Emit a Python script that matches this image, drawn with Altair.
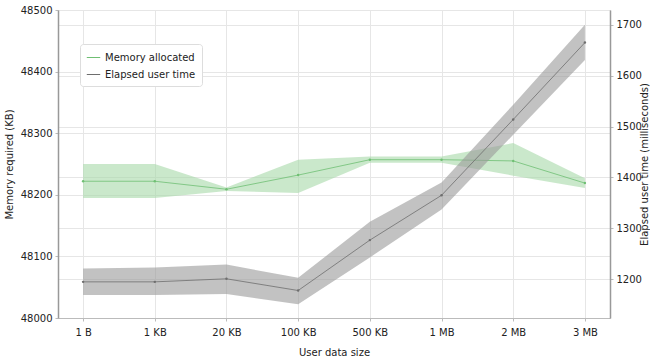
import altair as alt
import pandas as pd

sizes = ["1 B", "1 KB", "20 KB", "100 KB", "500 KB", "1 MB", "2 MB", "3 MB"]
mem_mean = [48222, 48222, 48209, 48232, 48257, 48257, 48255, 48219]
mem_lo = [48195, 48195, 48206, 48203, 48252, 48252, 48231, 48211]
mem_hi = [48250, 48250, 48212, 48257, 48262, 48262, 48284, 48227]
time_mean = [1195, 1195, 1201, 1178, 1277, 1365, 1514, 1665]
time_lo = [1169, 1169, 1171, 1151, 1243, 1337, 1484, 1631]
time_hi = [1221, 1223, 1229, 1203, 1313, 1390, 1543, 1700]

mem = pd.DataFrame({"size": sizes, "mean": mem_mean, "lo": mem_lo, "hi": mem_hi,
                    "series": "Memory allocated"})
tim = pd.DataFrame({"size": sizes, "mean": time_mean, "lo": time_lo, "hi": time_hi,
                    "series": "Elapsed user time"})

FONT = "DejaVu Sans"
xenc = alt.X("size:N", sort=sizes, title="User data size",
             scale=alt.Scale(type="point", padding=0.35),
             axis=alt.Axis(labelAngle=0, grid=True, gridColor="#e6e6e6", domainColor="#bbbbbb",
                           tickColor="#bbbbbb", tickSize=3, labelPadding=6, titlePadding=10))
color = alt.Color("series:N",
                  scale=alt.Scale(domain=["Memory allocated", "Elapsed user time"],
                                  range=["#6fbf73", "#6e6e6e"]),
                  legend=alt.Legend(title=None, orient="none", legendX=22, legendY=34,
                                    symbolType="stroke", symbolSize=180, symbolStrokeWidth=1,
                                    labelFontSize=10, labelFont=FONT, labelColor="#222",
                                    fillColor="white", strokeColor="#dddddd", padding=6,
                                    cornerRadius=3, rowPadding=4))

ymem = alt.Scale(domain=[48000, 48500], nice=False)
yaxis_l = alt.Axis(values=[48000, 48100, 48200, 48300, 48400, 48500], format="d", grid=True,
                   gridColor="#e6e6e6", domainColor="#999999", domainWidth=1.5,
                   tickColor="#bbbbbb", tickSize=3, labelPadding=3, titlePadding=6)
mem_band = alt.Chart(mem).mark_area(color="#a6d9a8", opacity=0.6).encode(
    x=xenc, y=alt.Y("lo:Q", scale=ymem, title="Memory required (KB)", axis=yaxis_l), y2="hi:Q")
mem_line = alt.Chart(mem).mark_line(strokeWidth=0.8, point=alt.OverlayMarkDef(size=6, filled=True)).encode(
    x=xenc, y=alt.Y("mean:Q", scale=ymem), color=color)
left = alt.layer(mem_band, mem_line)

ytim = alt.Scale(domain=[1124, 1729], nice=False)
yaxis_r = alt.Axis(orient="right", values=[1200, 1300, 1400, 1500, 1600, 1700], format="d", grid=True,
                   gridColor="#e6e6e6", domainColor="#999999", domainWidth=1.5,
                   tickColor="#bbbbbb", tickSize=3, labelPadding=3, titleAngle=270,
                   titleBaseline="middle", titleX=34)
tim_band = alt.Chart(tim).mark_area(color="#9a9a9a", opacity=0.6).encode(
    x=xenc, y=alt.Y("lo:Q", scale=ytim, title="Elapsed user time (milliseconds)", axis=yaxis_r),
    y2="hi:Q")
tim_line = alt.Chart(tim).mark_line(strokeWidth=0.8, point=alt.OverlayMarkDef(size=6, filled=True)).encode(
    x=xenc, y=alt.Y("mean:Q", scale=ytim), color=color)
right = alt.layer(tim_band, tim_line)

chart = alt.layer(left, right).resolve_scale(y="independent").properties(
    width=552, height=308,
    autosize=alt.AutoSizeParams(type="none"),
    padding={"left": 58, "top": 10, "right": 40, "bottom": 42},
).configure_axis(
    labelFont=FONT, titleFont=FONT, labelFontSize=10, titleFontSize=10,
    labelColor="#222222", titleColor="#222222", titleFontWeight="normal",
).configure_view(stroke="#cccccc", strokeWidth=1)

chart.save("out.html", embed_options={"renderer": "svg", "actions": False})
